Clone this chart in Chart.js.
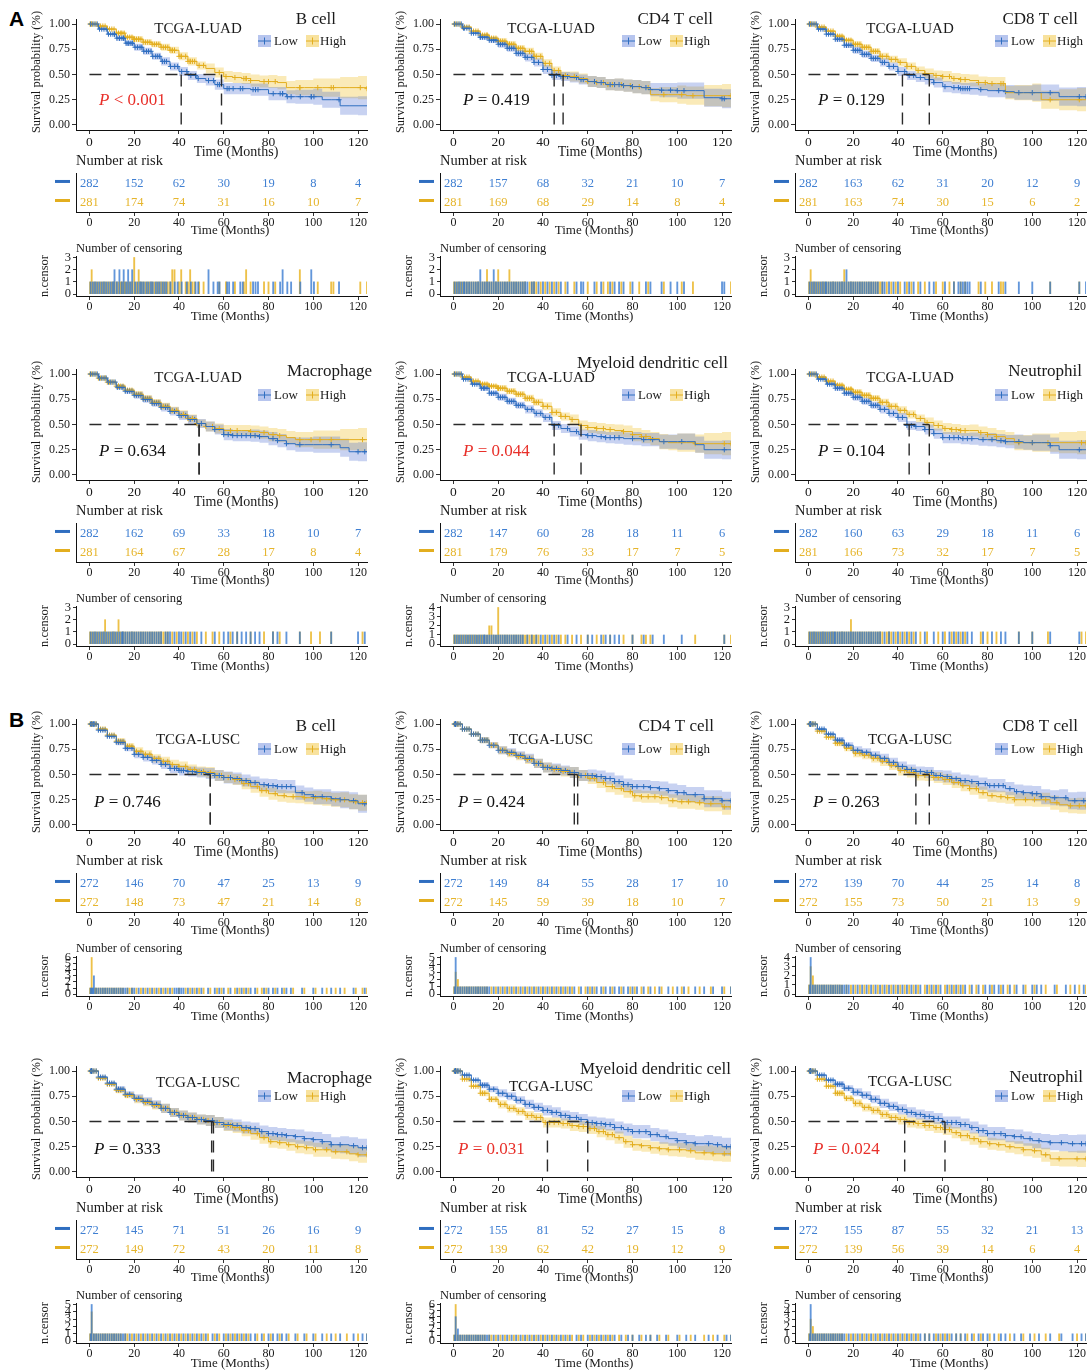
<!DOCTYPE html>
<html>
<head>
<meta charset="utf-8">
<script src="https://cdn.jsdelivr.net/npm/chart.js@4.4.0/dist/chart.umd.min.js"></script>
<style>
  body { margin:0; background:#fff; width:1089px; height:1371px; overflow:hidden; position:relative; }
  canvas { position:absolute; }
  .tag { position:absolute; font:bold 21px 'Liberation Sans', Arial, sans-serif; color:#000; }
</style>
</head>
<body>
<div class="tag" style="left:9px;top:7px">A</div>
<div class="tag" style="left:9px;top:708px">B</div>
<script>
// ---- data ----
const months = [0,4,8,12,16,20,24,28,32,36,40,44,48,52,56,60,64,68,72,76,80,84,88,92,96,100,104,108,112,116,120,124];
const ciMonths = [0,10,20,30,40,50,60,70,80,90,100,110,120];
const riskMonths = [0,20,40,60,80,100,120];
const xTicks = [0,20,40,60,80,100,120];
const yTicks = [0,0.25,0.5,0.75,1];
const groups = ['Low','High'];
const cellTypes = ['B cell','CD4 T cell','CD8 T cell','Macrophage','Myeloid dendritic cell','Neutrophil'];
const cohorts = ['TCGA-LUAD','TCGA-LUSC'];
const pTexts = ['< 0.001','= 0.419','= 0.129','= 0.634','= 0.044','= 0.104',
                '= 0.746','= 0.424','= 0.263','= 0.333','= 0.031','= 0.024'];
const medians = [[41,59],[45,49],[42,54],[49,49],[45,57],[45,54],
                 [54,54],[54,55.5],[48,54],[54.6,55.4],[42,60],[43,61]];
const censorMax = [3,3,3,3,4,3, 6,5,4,5,6,5];

// survival estimates on the months grid
const survA1Low  = [1,0.95,0.90,0.86,0.81,0.77,0.73,0.68,0.63,0.58,0.53,0.49,0.46,0.44,0.40,0.36,0.36,0.36,0.35,0.35,0.31,0.31,0.28,0.28,0.28,0.28,0.25,0.25,0.19,0.19,0.19,0.19];
const survA1High = [1,0.98,0.95,0.91,0.87,0.85,0.82,0.80,0.77,0.74,0.68,0.63,0.59,0.56,0.52,0.48,0.47,0.46,0.44,0.43,0.43,0.42,0.37,0.37,0.37,0.37,0.37,0.37,0.37,0.37,0.37,0.36];
const survA2Low  = [1,0.96,0.91,0.87,0.84,0.80,0.76,0.71,0.67,0.62,0.55,0.49,0.48,0.47,0.45,0.43,0.42,0.40,0.40,0.39,0.38,0.37,0.35,0.345,0.345,0.34,0.34,0.34,0.27,0.27,0.26,0.26];
const survA2High = [1,0.97,0.93,0.89,0.86,0.83,0.80,0.76,0.73,0.68,0.61,0.54,0.49,0.48,0.46,0.43,0.42,0.40,0.40,0.39,0.38,0.37,0.30,0.30,0.30,0.30,0.29,0.29,0.29,0.29,0.29,0.29];
const survA3Low  = [1,0.95,0.90,0.85,0.79,0.74,0.70,0.66,0.62,0.58,0.53,0.49,0.47,0.45,0.42,0.38,0.37,0.36,0.36,0.35,0.34,0.34,0.33,0.32,0.32,0.32,0.32,0.32,0.28,0.28,0.28,0.28];
const survA3High = [1,0.97,0.93,0.88,0.84,0.80,0.77,0.73,0.68,0.65,0.62,0.58,0.54,0.51,0.49,0.48,0.46,0.45,0.44,0.42,0.41,0.41,0.32,0.32,0.32,0.32,0.25,0.25,0.25,0.25,0.25,0.25];
const survA4Low  = [1,0.96,0.92,0.87,0.83,0.79,0.75,0.71,0.67,0.63,0.59,0.55,0.51,0.48,0.45,0.40,0.39,0.39,0.39,0.38,0.36,0.34,0.31,0.30,0.30,0.30,0.30,0.30,0.27,0.23,0.23,0.23];
const survA4High = [1,0.96,0.92,0.88,0.84,0.80,0.76,0.72,0.68,0.64,0.60,0.56,0.51,0.48,0.46,0.44,0.44,0.44,0.43,0.42,0.40,0.39,0.37,0.35,0.35,0.35,0.35,0.35,0.35,0.35,0.35,0.35];
const survA5Low  = [1,0.95,0.90,0.86,0.81,0.77,0.73,0.69,0.65,0.61,0.57,0.49,0.46,0.43,0.40,0.39,0.38,0.37,0.37,0.36,0.36,0.35,0.35,0.33,0.33,0.33,0.33,0.30,0.25,0.25,0.25,0.25];
const survA5High = [1,0.97,0.93,0.90,0.88,0.86,0.83,0.80,0.76,0.72,0.68,0.62,0.58,0.55,0.49,0.47,0.46,0.45,0.44,0.43,0.40,0.38,0.36,0.33,0.32,0.32,0.32,0.31,0.31,0.31,0.31,0.31];
const survA6Low  = [1,0.95,0.90,0.86,0.81,0.77,0.73,0.69,0.65,0.61,0.57,0.49,0.48,0.45,0.41,0.37,0.37,0.36,0.36,0.35,0.35,0.34,0.33,0.33,0.32,0.32,0.32,0.29,0.25,0.25,0.25,0.25];
const survA6High = [1,0.97,0.93,0.89,0.85,0.82,0.79,0.76,0.72,0.68,0.64,0.60,0.56,0.52,0.49,0.46,0.45,0.44,0.44,0.42,0.40,0.38,0.36,0.32,0.32,0.32,0.32,0.32,0.32,0.32,0.32,0.32];
const survB1Low  = [1,0.94,0.88,0.82,0.76,0.70,0.67,0.64,0.60,0.56,0.54,0.53,0.52,0.51,0.49,0.47,0.46,0.44,0.42,0.40,0.39,0.38,0.38,0.32,0.30,0.28,0.28,0.26,0.25,0.24,0.21,0.21];
const survB1High = [1,0.95,0.89,0.83,0.78,0.73,0.70,0.66,0.63,0.60,0.58,0.55,0.53,0.52,0.49,0.47,0.45,0.41,0.38,0.34,0.31,0.29,0.28,0.28,0.27,0.27,0.26,0.25,0.25,0.23,0.22,0.22];
const survB2Low  = [1,0.95,0.90,0.84,0.79,0.74,0.72,0.69,0.66,0.61,0.57,0.56,0.54,0.52,0.49,0.49,0.48,0.46,0.43,0.40,0.38,0.38,0.37,0.36,0.34,0.32,0.30,0.30,0.26,0.26,0.24,0.24];
const survB2High = [1,0.95,0.90,0.84,0.79,0.74,0.71,0.68,0.65,0.61,0.57,0.55,0.53,0.52,0.49,0.46,0.42,0.38,0.36,0.33,0.29,0.28,0.28,0.27,0.24,0.23,0.23,0.22,0.21,0.21,0.18,0.18];
const survB3Low  = [1,0.95,0.90,0.84,0.79,0.74,0.72,0.69,0.66,0.62,0.58,0.55,0.53,0.52,0.49,0.48,0.46,0.44,0.43,0.41,0.39,0.39,0.36,0.33,0.32,0.31,0.28,0.27,0.27,0.24,0.24,0.24];
const survB3High = [1,0.93,0.87,0.81,0.76,0.71,0.69,0.66,0.63,0.59,0.54,0.52,0.49,0.49,0.47,0.45,0.42,0.39,0.36,0.32,0.29,0.28,0.27,0.25,0.25,0.25,0.25,0.22,0.20,0.19,0.19,0.19];
const survB4Low  = [1,0.94,0.88,0.82,0.77,0.73,0.70,0.67,0.63,0.59,0.56,0.54,0.52,0.51,0.49,0.47,0.46,0.44,0.43,0.40,0.38,0.37,0.36,0.35,0.33,0.32,0.30,0.27,0.27,0.26,0.24,0.24];
const survB4High = [1,0.93,0.87,0.81,0.76,0.72,0.69,0.66,0.63,0.59,0.56,0.54,0.52,0.51,0.49,0.46,0.44,0.41,0.38,0.34,0.30,0.29,0.27,0.25,0.24,0.22,0.22,0.20,0.20,0.18,0.17,0.17];
const survB5Low  = [1,0.96,0.91,0.86,0.82,0.78,0.75,0.71,0.67,0.64,0.61,0.59,0.56,0.54,0.52,0.49,0.48,0.47,0.44,0.42,0.40,0.40,0.37,0.35,0.33,0.31,0.29,0.28,0.28,0.27,0.25,0.25];
const survB5High = [1,0.92,0.85,0.78,0.72,0.67,0.63,0.60,0.56,0.54,0.49,0.49,0.48,0.46,0.45,0.43,0.40,0.37,0.34,0.30,0.27,0.26,0.24,0.23,0.22,0.22,0.21,0.19,0.19,0.18,0.18,0.18];
const survB6Low  = [1,0.96,0.91,0.87,0.83,0.79,0.76,0.72,0.68,0.65,0.62,0.59,0.57,0.55,0.53,0.49,0.49,0.47,0.44,0.41,0.38,0.38,0.36,0.35,0.33,0.31,0.30,0.29,0.29,0.28,0.28,0.28];
const survB6High = [1,0.92,0.85,0.78,0.73,0.68,0.64,0.61,0.57,0.54,0.52,0.49,0.48,0.46,0.44,0.42,0.39,0.36,0.33,0.30,0.28,0.27,0.25,0.24,0.22,0.21,0.17,0.13,0.13,0.13,0.13,0.13];

// half-width of the 95% band, read at ciMonths
const ciLuadLow  = [0,0.025,0.035,0.04,0.045,0.05,0.055,0.06,0.065,0.07,0.08,0.09,0.095];
const ciLuadHigh = [0,0.02,0.03,0.035,0.04,0.05,0.055,0.06,0.065,0.075,0.09,0.105,0.115];
const ciLuscLow  = [0,0.03,0.04,0.045,0.05,0.055,0.06,0.06,0.065,0.07,0.075,0.085,0.09];
const ciLuscHigh = [0,0.03,0.04,0.045,0.05,0.055,0.055,0.06,0.06,0.065,0.07,0.075,0.08];

// number at risk at riskMonths
const riskA1Low = [282,152,62,30,19,8,4],   riskA1High = [281,174,74,31,16,10,7];
const riskA2Low = [282,157,68,32,21,10,7],  riskA2High = [281,169,68,29,14,8,4];
const riskA3Low = [282,163,62,31,20,12,9],  riskA3High = [281,163,74,30,15,6,2];
const riskA4Low = [282,162,69,33,18,10,7],  riskA4High = [281,164,67,28,17,8,4];
const riskA5Low = [282,147,60,28,18,11,6],  riskA5High = [281,179,76,33,17,7,5];
const riskA6Low = [282,160,63,29,18,11,6],  riskA6High = [281,166,73,32,17,7,5];
const riskB1Low = [272,146,70,47,25,13,9],  riskB1High = [272,148,73,47,21,14,8];
const riskB2Low = [272,149,84,55,28,17,10], riskB2High = [272,145,59,39,18,10,7];
const riskB3Low = [272,139,70,44,25,14,8],  riskB3High = [272,155,73,50,21,13,9];
const riskB4Low = [272,145,71,51,26,16,9],  riskB4High = [272,149,72,43,20,11,8];
const riskB5Low = [272,155,81,52,27,15,8],  riskB5High = [272,139,62,42,19,12,9];
const riskB6Low = [272,155,87,55,32,21,13], riskB6High = [272,139,56,39,14,6,4];

// censoring times (months); a repeated time means more than one censored case
const censA1Low  = [0.5,1.5,2.5,3.5,4.5,5.5,6.5,7.5,8.5,9.5,10.5,11.2,11.2,12.3,13.4,13.4,14.5,15.3,15.3,16.4,17.3,17.3,18.2,19.1,19.1,20.4,21.5,22.6,23.4,24.3,25.5,26.4,27.5,28.3,29.6,30.5,31.4,32.6,33.5,34.4,36.2,38.1,39.4,41.2,43.5,45.3,47.4,48.6,53.2,53.2,55.4,57.3,58.1,61.5,62.4,64.2,67.4,68.5,73.1,74.2,75.3,82.1,85.2,86.3,86.3,88.4,90.1,94.2,99.1,99.1,100.3,111.5];
const censA1High = [0.3,1,1,2,3,4,5,6,7,8,9,10,11,12,13,14,14.5,15.5,16,17,18,19,20,20,20,21,22,22,23,24,25,26,27,28,29,30,31,32,33,34,35,36,37,37,38,38,40,41,41,43,44,45,45,46,47,49,51,58,61,65,69,70,70,72,78,80,83,94,94,102,108,109,121,124];
const censA2Low  = [0.5,1.5,2.5,3.5,4.5,5,6,7,8,9,10,11,12,12,13,14,15,16,17,18,18,19,20,21,22,23,24,25,26,27,28,29,30,31,32,33,35,36,38,40,42,44,46,48,51,55,57,58,63,66,70,72,74,76,80,86,88,93,97,100,103,120,121];
const censA2High = [0.3,1,2,3,4,5,6,7,8,9,10,11,12,13,14,15,15,16,17,18,19,20,20,21,22,23,24,25,25,26,27,28,29,30,31,32,34,35,36,37,39,41,43,45,47,50,54,60,64,67,69,71,75,79,83,87,94,102,107,124];
const censA3Low  = [0.5,1.5,2.5,3.5,4.5,5.5,6.5,7.5,8,9,10,11,12,13,14,15,16,17,17,18,19,20,21,22,23,24,25,26,27,28,29,30,31,33,34,36,38,40,43,45,47,50,54,56,61,65,67,68,69,70,71,72,77,85,88,94,100,108,121,124];
const censA3High = [0.3,1,1,2,3,4,5,6,7,8,9,10,11,12,13,14,15,16,16,17,18,19,20,21,22,23,24,25,26,27,28,29,30,31,32,33,35,37,39,41,44,46,49,52,57,60,63,65,68,70,76,79,82,86,87,108,121];
const censA4Low  = [0.5,1.5,2.5,3.5,4.5,5.5,6.5,7.5,8.5,9.5,10.5,11.5,12.5,13.5,14.5,15,16,17,18,19,20,21,22,23,24,25,26,27,28,29,30,31,32,34,35,36,38,40,41,43,45,47,50,56,60,62,64,66,68,70,72,74,76,82,84,88,94,108,120,123];
const censA4High = [0.3,1,2,3,4,5,6,7,7,8,9,10,11,12,13,13,14,15,16,17,18,19,20,21,22,23,24,25,26,27,28,29,30,31,32,33,34,35,37,39,42,44,46,48,52,55,58,63,66,72,78,82,85,94,99,103,108,122];
const censA5Low  = [0.5,1.5,2.5,3.5,4.5,5.5,6.5,7.5,8.5,9.5,10.5,11.5,12.5,13.5,14,15,16,17,18,19,20,21,22,23,24,25,26,27,28,29,30,31,33,35,37,39,41,43,45,47,51,55,60,62,66,68,70,72,74,80,85,89,94,102,121];
const censA5High = [0.3,1,2,3,4,5,6,7,8,9,10,11,12,13,14,15,16,16,17,17,18,19,20,20,20,20,21,22,23,24,25,26,27,28,29,30,31,32,33,34,35,36,37,38,40,42,44,46,48,50,53,57,60,64,67,70,76,80,84,86,88,108,121,124];
const censA6Low  = [0.5,1.5,2.5,3.5,4.5,5.5,6.5,7.5,8.5,9.5,10.5,11.5,12,13,14,15,16,17,18,19,20,21,22,23,24,25,26,27,28,29,30,31,32,34,36,38,40,42,44,46,48,52,56,60,63,65,67,69,71,73,78,82,86,88,94,100,108,121];
const censA6High = [0.3,1,2,3,4,5,6,7,8,9,10,11,12,13,14,15,16,17,18,19,19,20,21,22,23,24,25,26,27,28,29,30,31,32,33,35,36,37,39,41,43,45,47,50,53,58,61,64,66,68,70,77,80,84,94,100,107,122,124];
const censB1Low  = [0.5,1,1.5,2,2,2,3,4,5,6,7,8,9,10,11,12,13,14,15,16,17,19,20,22,24,26,28,30,32,34,36,38,39,40,41,42,44,46,48,50,53,56,58,60,63,66,68,70,72,74,78,80,82,84,86,88,90,95,100,104,108,112,118,123];
const censB1High = [0.3,1,1,1,1,1,1,2.5,3,4,5,6,7,8,9,10,11,12,13,14,15,17,18,19,21,23,25,27,29,31,33,35,37,40,43,45,47,49,51,54,57,59,62,65,67,69,71,75,77,79,83,87,91,96,101,106,110,114,119,122,124];
const censB2Low  = [0.5,1,1,1,1,1,2,3,4,5,6,7,8,9,10,11,12,13,14,15,16,18,20,22,24,26,28,30,32,34,36,38,40,42,44,46,48,50,52,54,57,60,62,64,66,68,70,72,74,76,78,80,82,85,88,92,96,100,103,108,112,116,120,124];
const censB2High = [0.3,1,1,1,2,2,3,4,5,6,7,8,9,10,11,12,13,14,15,17,19,21,23,25,27,29,31,33,35,37,39,41,43,45,47,49,51,53,56,59,61,63,67,71,75,79,81,84,87,90,93,98,102,105,110,115,121,124];
const censB3Low  = [0.5,1,1,1,1,2,3,4,5,6,7,8,9,10,11,12,13,14,15,16,17,18,20,22,24,26,28,30,32,34,36,38,40,42,44,46,48,50,53,55,57,59,62,64,66,68,70,73,76,79,81,83,85,87,90,93,96,100,102,104,110,115,119,123];
const censB3High = [0.3,1,1,1,2,2,3,4,5,6,7,8,9,10,11,12,13,14,15,17,19,21,23,25,27,29,31,33,35,37,39,41,43,45,47,49,52,54,56,58,61,63,65,67,69,72,75,78,82,86,89,92,97,101,106,111,117,121,124];
const censB4Low  = [0.5,1,1,1,1,1,2,3,4,5,6,7,8,9,10,11,12,13,14,15,16,18,20,22,24,26,28,30,32,34,36,38,40,42,44,46,48,50,52,55,57,60,62,64,66,68,70,72,74,77,80,82,84,86,88,92,96,100,104,108,112,118,122,124];
const censB4High = [0.3,1,1,1,1,2,3,4,5,6,7,8,9,10,11,12,13,14,16,17,19,21,23,25,27,29,31,33,35,37,39,41,43,45,47,49,51,53,56,58,61,63,65,67,69,71,75,78,81,85,89,93,97,101,106,110,115,120,124];
const censB5Low  = [0.5,1,1,1,1,2,2,3,4,5,6,7,8,9,10,11,12,13,14,15,16,18,20,22,24,26,28,30,32,34,36,38,40,42,44,46,48,50,52,55,57,60,62,64,66,68,70,72,75,78,80,83,86,88,91,95,100,104,108,114,118,122,124];
const censB5High = [0.3,1,1,1,1,1,1,2,3,4,5,6,7,8,9,10,11,12,13,14,16,17,19,21,23,25,27,29,31,33,35,37,39,41,43,45,47,49,51,53,56,58,61,63,65,67,69,71,74,77,80,84,88,92,96,101,106,112,116,121,124];
const censB6Low  = [0.5,1,1,1,1,1,2,3,4,5,6,7,8,9,10,11,12,13,14,15,16,18,20,22,24,26,28,30,32,34,36,38,40,42,44,46,48,50,52,54,56,58,60,62,64,66,68,70,73,76,78,80,83,86,88,92,95,99,103,108,113,118,122,124];
const censB6High = [0.3,1,1,1,2,2,3,4,5,6,7,8,9,10,11,12,13,14,15,17,19,21,23,25,27,29,31,33,35,37,39,41,43,45,47,49,52,54,57,59,61,63,66,68,71,74,77,81,85,90,96,101,106,112,120,124];

const panels = [
  {surv:[survA1Low,survA1High], ci:[ciLuadLow,ciLuadHigh], risk:[riskA1Low,riskA1High], cens:[censA1Low,censA1High]},
  {surv:[survA2Low,survA2High], ci:[ciLuadLow,ciLuadHigh], risk:[riskA2Low,riskA2High], cens:[censA2Low,censA2High]},
  {surv:[survA3Low,survA3High], ci:[ciLuadLow,ciLuadHigh], risk:[riskA3Low,riskA3High], cens:[censA3Low,censA3High]},
  {surv:[survA4Low,survA4High], ci:[ciLuadLow,ciLuadHigh], risk:[riskA4Low,riskA4High], cens:[censA4Low,censA4High]},
  {surv:[survA5Low,survA5High], ci:[ciLuadLow,ciLuadHigh], risk:[riskA5Low,riskA5High], cens:[censA5Low,censA5High]},
  {surv:[survA6Low,survA6High], ci:[ciLuadLow,ciLuadHigh], risk:[riskA6Low,riskA6High], cens:[censA6Low,censA6High]},
  {surv:[survB1Low,survB1High], ci:[ciLuscLow,ciLuscHigh], risk:[riskB1Low,riskB1High], cens:[censB1Low,censB1High]},
  {surv:[survB2Low,survB2High], ci:[ciLuscLow,ciLuscHigh], risk:[riskB2Low,riskB2High], cens:[censB2Low,censB2High]},
  {surv:[survB3Low,survB3High], ci:[ciLuscLow,ciLuscHigh], risk:[riskB3Low,riskB3High], cens:[censB3Low,censB3High]},
  {surv:[survB4Low,survB4High], ci:[ciLuscLow,ciLuscHigh], risk:[riskB4Low,riskB4High], cens:[censB4Low,censB4High]},
  {surv:[survB5Low,survB5High], ci:[ciLuscLow,ciLuscHigh], risk:[riskB5Low,riskB5High], cens:[censB5Low,censB5High]},
  {surv:[survB6Low,survB6High], ci:[ciLuscLow,ciLuscHigh], risk:[riskB6Low,riskB6High], cens:[censB6Low,censB6High]}
];

// ---- look ----
const SERIF = "'Liberation Serif','Times New Roman',serif";
const lineCol = ['#2F6EC0', '#E3AE1F'];
const bandCol = ['rgba(50,90,205,0.27)', 'rgba(240,190,40,0.33)'];
const keyCol  = ['rgba(50,90,205,0.35)', 'rgba(240,190,40,0.45)'];
const textCol = ['#3F7FD2', '#E6B52C'];
const barCol  = ['rgba(45,115,205,0.75)', 'rgba(232,178,28,0.8)'];

// ---- layout (pixels) ----
const colLeft = [76, 440, 795];
const rowTop = [0, 350, 700, 1047];
const titleRight = [260,273,283, 296,288,287, 260,274,283, 296,291,288];
const titleY = [20,20,20, 22,14,22, 27,27,27, 32,23,31];
const cohortDx = [122,111,115];
const cohortY = [29,29,29, 28,28,28, 40,40,40, 36,40,35];
const legendY = [41,41,41, 45,45,45, 49,49,49, 49,49,49];
const legendDx = [0,0,18];
const pY = [101,101,101, 102,102,102, 103,103,103, 103,103,103];

function lastIndex(arr, t) {
  let k = 0;
  for (let i = 0; i < arr.length; i++) if (arr[i] <= t + 1e-9) k = i;
  return k;
}

function addCanvas(x, y, w, h) {
  const c = document.createElement('canvas');
  c.width = w; c.height = h;
  c.style.left = x + 'px'; c.style.top = y + 'px';
  c.style.width = w + 'px'; c.style.height = h + 'px';
  document.body.appendChild(c);
  return c;
}

function xAxis(size, height) {
  return {
    type: 'linear', min: -6, max: 124, offset: false,
    afterBuildTicks: s => { s.ticks = xTicks.map(v => ({value: v})); },
    afterFit: s => { s.height = height; },
    ticks: {font: {family: SERIF, size: size}, color: '#1a1a1a', padding: 0, maxRotation: 0, autoSkip: false},
    grid: {drawOnChartArea: false, tickLength: 4, color: '#333', offset: false},
    border: {color: '#111', width: 1}
  };
}

function baseOptions(padTop) {
  return {
    responsive: false, animation: false, devicePixelRatio: 1, events: [],
    layout: {autoPadding: false, padding: {left: 30, top: padTop, right: 8, bottom: 0}},
    plugins: {legend: {display: false}, tooltip: {enabled: false}}
  };
}

function font(size, style) {
  return (style || '') + ' ' + size + 'px ' + SERIF;
}

function kmOverlay(i, p) {
  const col = i % 3;
  const luad = i < 6;
  return {
    id: 'kmOverlay',
    afterDraw(chart) {
      const {ctx, chartArea: a, scales: {x, y}} = chart;
      ctx.save();
      // median survival guides
      const y5 = y.getPixelForValue(0.5), y0 = y.getPixelForValue(0);
      const med = medians[i];
      ctx.strokeStyle = '#2a2a2a'; ctx.lineWidth = 1.4; ctx.setLineDash([12, 7]);
      ctx.beginPath();
      ctx.moveTo(x.getPixelForValue(0), y5); ctx.lineTo(x.getPixelForValue(Math.max(...med)), y5);
      ctx.stroke();
      med.forEach(m => {
        ctx.beginPath(); ctx.moveTo(x.getPixelForValue(m), y5); ctx.lineTo(x.getPixelForValue(m), y0); ctx.stroke();
      });
      ctx.setLineDash([]);

      ctx.fillStyle = '#1a1a1a'; ctx.textBaseline = 'middle';
      // y title
      ctx.save();
      ctx.translate(a.left - 39, 72); ctx.rotate(-Math.PI / 2);
      ctx.font = font(12.5); ctx.textAlign = 'center';
      ctx.fillText('Survival probability (%)', 0, 0);
      ctx.restore();
      // x title
      ctx.font = font(14); ctx.textAlign = 'center';
      ctx.fillText('Time (Months)', a.left + 160, 152);
      // cell type
      ctx.font = font(17); ctx.textAlign = 'right';
      ctx.fillText(cellTypes[i % 6], a.left + titleRight[i], titleY[i]);
      // cohort
      ctx.font = font(15); ctx.textAlign = 'center';
      ctx.fillText(cohorts[luad ? 0 : 1], a.left + cohortDx[col], cohortY[i]);
      // legend
      const lx = a.left + legendDx[col];
      const keyX = [lx + 182, lx + 230], txtX = [lx + 198, lx + 244];
      ctx.font = font(13); ctx.textAlign = 'left';
      for (let g = 0; g < 2; g++) {
        const ly = legendY[i];
        ctx.fillStyle = keyCol[g]; ctx.fillRect(keyX[g], ly - 6, 13, 12);
        ctx.strokeStyle = lineCol[g]; ctx.lineWidth = 1;
        ctx.beginPath();
        ctx.moveTo(keyX[g], ly); ctx.lineTo(keyX[g] + 13, ly);
        ctx.moveTo(keyX[g] + 6.5, ly - 3.5); ctx.lineTo(keyX[g] + 6.5, ly + 3.5);
        ctx.stroke();
        ctx.fillStyle = '#1a1a1a';
        ctx.fillText(groups[g], txtX[g], ly + 1);
      }
      // p value
      const pv = parseFloat(pTexts[i].replace(/[<=\s]/g, ''));
      ctx.fillStyle = pv < 0.05 ? '#E8302A' : '#111';
      const px = a.left + (luad ? 23 : 18);
      ctx.font = font(17, 'italic');
      ctx.fillText('P', px, pY[i]);
      const pw = ctx.measureText('P').width;
      ctx.font = font(17);
      ctx.fillText(' ' + pTexts[i], px + pw, pY[i]);
      ctx.restore();
    }
  };
}

function riskOverlay(i, p) {
  return {
    id: 'riskOverlay',
    afterDraw(chart) {
      const {ctx, chartArea: a, scales: {x, y}} = chart;
      ctx.save();
      ctx.textBaseline = 'middle';
      ctx.fillStyle = '#1a1a1a'; ctx.font = font(14.5); ctx.textAlign = 'left';
      ctx.fillText('Number at risk', a.left, 11);
      ctx.font = font(13); ctx.textAlign = 'center';
      ctx.fillText('Time (Months)', a.left + 154, 81);
      ctx.font = font(12.5);
      for (let g = 0; g < 2; g++) {
        const ry = y.getPixelForValue(2 - g);
        ctx.fillStyle = textCol[g];
        riskMonths.forEach((t, k) => ctx.fillText(String(p.risk[g][k]), x.getPixelForValue(t), ry));
        ctx.strokeStyle = lineCol[g]; ctx.lineWidth = 3;
        ctx.beginPath(); ctx.moveTo(a.left - 21, ry - 2); ctx.lineTo(a.left - 6, ry - 2); ctx.stroke();
      }
      ctx.restore();
    }
  };
}

function censOverlay(i) {
  return {
    id: 'censOverlay',
    afterDraw(chart) {
      const {ctx, chartArea: a} = chart;
      ctx.save();
      ctx.textBaseline = 'middle'; ctx.fillStyle = '#1a1a1a';
      ctx.font = font(12.5); ctx.textAlign = 'left';
      ctx.fillText('Number of censoring', a.left, 11);
      ctx.textAlign = 'center'; ctx.font = font(13);
      ctx.fillText('Time (Months)', a.left + 154, 79);
      ctx.save();
      ctx.translate(a.left - 31, (a.top + a.bottom) / 2); ctx.rotate(-Math.PI / 2);
      ctx.font = font(12.5);
      ctx.fillText('n.censor', 0, 0);
      ctx.restore();
      ctx.restore();
    }
  };
}

function countBars(times) {
  const m = new Map();
  times.forEach(t => m.set(t, (m.get(t) || 0) + 1));
  return [...m].map(([t, n]) => ({x: t, y: n}));
}

panels.forEach((p, i) => {
  const col = i % 3, row = Math.floor(i / 3);
  const left = colLeft[col] - 76, top = rowTop[row];

  // --- survival curves ---
  const lines = [], marks = [], bands = [];
  for (let g = 0; g < 2; g++) {
    const s = p.surv[g], ci = p.ci[g];
    lines.push({data: months.map((t, k) => ({x: t, y: s[k]})), stepped: 'before',
      borderColor: lineCol[g], borderWidth: 1, pointRadius: 0, fill: false});
    marks.push({data: p.cens[g].filter(t => t <= 124).map(t => ({x: t, y: s[lastIndex(months, t)]})),
      showLine: false, pointStyle: 'cross', pointRadius: 2.6, pointBorderWidth: 1,
      pointBorderColor: lineCol[g], pointBackgroundColor: lineCol[g]});
    bands.push({data: months.map((t, k) => ({x: t, y: Math.min(1, s[k] + ci[lastIndex(ciMonths, t)])})),
      stepped: 'before', borderWidth: 0, pointRadius: 0, fill: '+1', backgroundColor: bandCol[g]});
    bands.push({data: months.map((t, k) => ({x: t, y: Math.max(0, s[k] - ci[lastIndex(ciMonths, t)])})),
      stepped: 'before', borderWidth: 0, pointRadius: 0, fill: false});
  }
  const km = addCanvas(left, top, 375, 160);
  new Chart(km, {
    type: 'line',
    data: {datasets: [...lines, ...marks, ...bands]},
    options: Object.assign(baseOptions(19), {
      scales: {
        x: xAxis(13.5, 30),
        y: {min: -0.05, max: 1.05,
          afterBuildTicks: s => { s.ticks = yTicks.map(v => ({value: v})); },
          afterFit: s => { s.width = 46; },
          ticks: {font: {family: SERIF, size: 12}, color: '#1a1a1a', padding: 2, callback: v => v.toFixed(2)},
          grid: {drawOnChartArea: false, tickLength: 4, color: '#333'},
          border: {color: '#111', width: 1}}
      }
    }),
    plugins: [kmOverlay(i, p)]
  });

  // --- number at risk ---
  const rk = addCanvas(left, top + 150, 375, 92);
  new Chart(rk, {
    type: 'line',
    data: {datasets: []},
    options: Object.assign(baseOptions(23), {
      scales: {
        x: xAxis(12, 30),
        y: {min: 0.5, max: 2.55, afterFit: s => { s.width = 46; },
          ticks: {display: false}, grid: {display: false}, border: {color: '#111', width: 1}}
      }
    }),
    plugins: [riskOverlay(i, p)]
  });

  // --- censoring counts ---
  const mx = censorMax[i];
  const cs = addCanvas(left, top + 238, 375, 88);
  new Chart(cs, {
    type: 'bar',
    data: {datasets: [0, 1].map(g => ({data: countBars(p.cens[g]), backgroundColor: barCol[g],
      barThickness: 1.2, grouped: false, borderWidth: 0}))},
    options: Object.assign(baseOptions(18), {
      scales: {
        x: xAxis(12, 30),
        y: {min: -mx * 0.05, max: mx * 1.04,
          afterBuildTicks: s => { s.ticks = Array.from({length: mx + 1}, (_, k) => ({value: k})); },
          afterFit: s => { s.width = 46; },
          ticks: {font: {family: SERIF, size: 12.5}, color: '#1a1a1a', padding: 2, autoSkip: false},
          grid: {drawOnChartArea: false, tickLength: 3, color: '#333'},
          border: {color: '#111', width: 1}}
      }
    }),
    plugins: [censOverlay(i)]
  });
});
</script>
</body>
</html>
